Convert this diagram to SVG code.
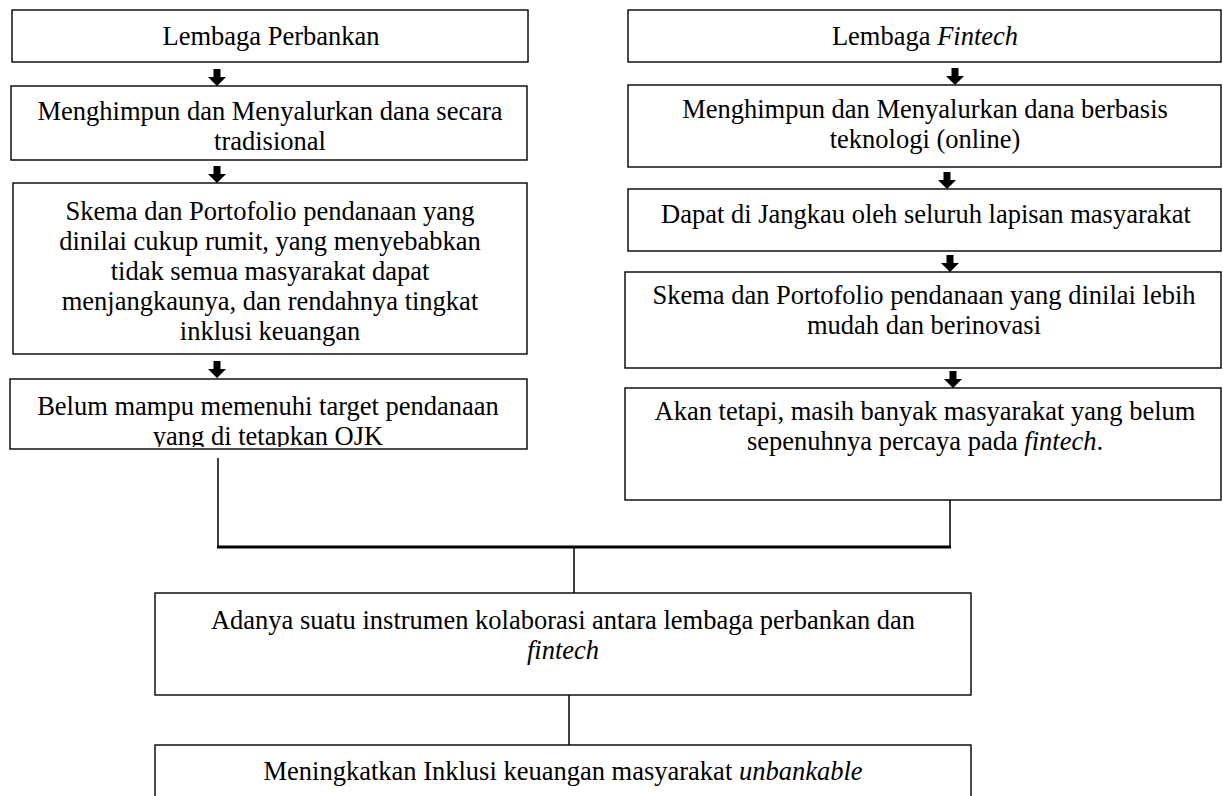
<svg xmlns="http://www.w3.org/2000/svg" width="1223" height="796" viewBox="0 0 1223 796">
<defs>
<style>
.box{fill:#fff;stroke:#000;stroke-width:1.4}
.t{font-family:"Liberation Serif","Times New Roman",serif;font-size:26.5px;fill:#000;text-anchor:middle}
.i{font-style:italic}
.ln{stroke:#000;stroke-width:1.5;fill:none}
.thick{stroke:#000;stroke-width:3;fill:none}
</style>
<path id="arr" d="M-3.5,0 H3.5 V8 H9 L0,17 L-9,8 H-3.5 Z" fill="#000"/>
<clipPath id="clipB4"><rect x="10" y="380" width="518" height="67"/></clipPath>
</defs>
<rect width="1223" height="796" fill="#fff"/>

<g id="connectors">
<use href="#arr" x="217" y="69"/>
<use href="#arr" x="217" y="166"/>
<use href="#arr" x="217" y="361"/>
<use href="#arr" x="955" y="68"/>
<use href="#arr" x="947" y="172"/>
<use href="#arr" x="950" y="255"/>
<use href="#arr" x="953" y="371"/>
<line class="ln" x1="218" y1="458" x2="218" y2="547"/>
<line class="ln" x1="950" y1="500" x2="950" y2="547"/>
<line class="thick" x1="217" y1="547" x2="951" y2="547"/>
<line class="ln" x1="574" y1="547" x2="574" y2="593"/>
<line class="ln" x1="569" y1="695" x2="569" y2="745"/>
</g>

<g id="n-lembaga-perbankan">
<rect class="box" x="12" y="10" width="516" height="52"/>
<text class="t" x="271" y="45">Lembaga Perbankan</text>
</g>
<g id="n-menghimpun-tradisional">
<rect class="box" x="11" y="86" width="516" height="74"/>
<text class="t" x="270" y="120">Menghimpun dan Menyalurkan dana secara</text>
<text class="t" x="270" y="150">tradisional</text>
</g>
<g id="n-skema-rumit">
<rect class="box" x="13" y="183" width="514" height="171"/>
<text class="t" x="270" y="220">Skema dan Portofolio pendanaan yang</text>
<text class="t" x="270" y="250">dinilai cukup rumit, yang menyebabkan</text>
<text class="t" x="270" y="280">tidak semua masyarakat dapat</text>
<text class="t" x="270" y="310">menjangkaunya, dan rendahnya tingkat</text>
<text class="t" x="270" y="340">inklusi keuangan</text>
</g>
<g id="n-belum-mampu">
<rect class="box" x="10" y="379" width="517" height="70"/>
<g clip-path="url(#clipB4)">
<text class="t" x="268" y="415">Belum mampu memenuhi target pendanaan</text>
<text class="t" x="268" y="445">yang di tetapkan OJK</text>
</g>
</g>

<g id="n-lembaga-fintech">
<rect class="box" x="628" y="10" width="593" height="52"/>
<text class="t" x="925" y="45">Lembaga <tspan class="i">Fintech</tspan></text>
</g>
<g id="n-menghimpun-teknologi">
<rect class="box" x="628" y="85" width="593" height="82"/>
<text class="t" x="925" y="118">Menghimpun dan Menyalurkan dana berbasis</text>
<text class="t" x="925" y="148">teknologi (online)</text>
</g>
<g id="n-dapat-dijangkau">
<rect class="box" x="628" y="189" width="593" height="62"/>
<text class="t" x="926" y="223">Dapat di Jangkau oleh seluruh lapisan masyarakat</text>
</g>
<g id="n-skema-mudah">
<rect class="box" x="625" y="272" width="596" height="96"/>
<text class="t" x="924" y="304">Skema dan Portofolio pendanaan yang dinilai lebih</text>
<text class="t" x="924" y="334">mudah dan berinovasi</text>
</g>
<g id="n-akan-tetapi">
<rect class="box" x="625" y="388" width="596" height="112"/>
<text class="t" x="925" y="420">Akan tetapi, masih banyak masyarakat yang belum</text>
<text class="t" x="925" y="450">sepenuhnya percaya pada <tspan class="i">fintech</tspan>.</text>
</g>

<g id="n-kolaborasi">
<rect class="box" x="155" y="593" width="816" height="102"/>
<text class="t" x="563" y="629">Adanya suatu instrumen kolaborasi antara lembaga perbankan dan</text>
<text class="t i" x="563" y="659">fintech</text>
</g>
<g id="n-inklusi">
<rect class="box" x="155" y="745" width="816" height="60"/>
<text class="t" x="563" y="780">Meningkatkan Inklusi keuangan masyarakat <tspan class="i">unbankable</tspan></text>
</g>
</svg>
